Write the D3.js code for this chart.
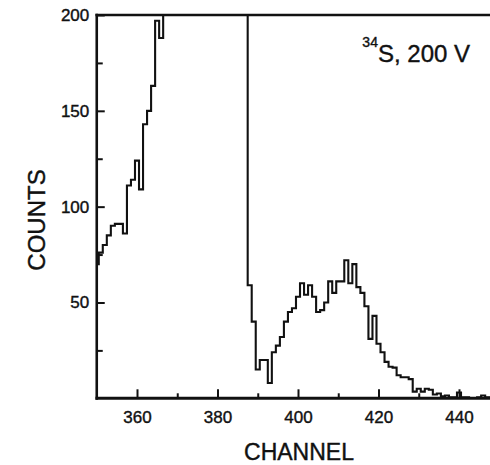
<!DOCTYPE html>
<html>
<head>
<meta charset="utf-8">
<script src="https://cdnjs.cloudflare.com/ajax/libs/d3/7.8.5/d3.min.js"></script>
<style>
    html, body { margin: 0; padding: 0; background: #fff; }
    svg { display: block; font-family: "Liberation Sans", Arial, Helvetica, sans-serif; }
    svg text { stroke: #111; stroke-width: 0.4px; }
</style>
</head>
<body>
<div id="chart"></div>
<script>
// first channel of the spectrum, one count per channel after that
var firstChannel = 350;
// counts; 200 = off scale (line runs along the top of the frame)
var counts = [
    70, 76, 80, 85, 90, 91, 91, 86, 111, 114,
    124, 109, 143, 150, 163, 197, 188,
    200, 200, 200, 200, 200, 200, 200, 200, 200, 200,
    200, 200, 200, 200, 200, 200, 200, 200, 200, 200, 200,
    59, 40, 15, 20, 20, 8, 24, 27.5, 32, 40,
    45, 47, 53, 60, 54, 59, 53, 45, 46, 50,
    61, 55, 61, 61, 72, 60, 70, 58, 55, 48,
    31, 43, 28.5, 24, 19, 16.5, 16, 12, 11, 11,
    10, 3.5, 5, 3.5, 5, 4.5, 2, 2.5, 1, 1.5,
    0.5, 0.5, 3, 0.5, 0.5, 0, 0, 0.5, 1.5, 0.5, 0
];
var xMajorTicks = [360, 380, 400, 420, 440];
var xMinorTicks = [370, 390, 410, 430];
var yMajorTicks = [50, 100, 150, 200];
var yMinorTicks = [25, 75, 125, 175];
var xDomain = [350, 448];
var yDomain = [0, 200];

function drawChart() {
    var width = 490, height = 465;
    var plotLeft = 96.75, plotRight = 491.2, plotTop = 15, plotBottom = 398.3;

    var svg = d3.select("#chart").append("svg")
        .attr("width", width)
        .attr("height", height);

    var x = d3.scaleLinear().domain(xDomain).range([plotLeft, plotRight]);
    var y = d3.scaleLinear().domain(yDomain).range([plotBottom, plotTop]);

    var bins = counts.map(function (d, i) {
        return {channel: firstChannel + i, value: d};
    });

    // step outline: each bin covers channel-0.5 .. channel+0.5
    var pts = [];
    bins.forEach(function (d) {
        pts.push([d.channel - 0.5, d.value]);
        pts.push([d.channel + 0.5, d.value]);
    });

    var histLine = d3.line()
        .x(function (d) { return x(d[0]); })
        .y(function (d) { return y(d[1]); });

    svg.append("clipPath").attr("id", "plotClip")
        .append("rect")
        .attr("x", x(xDomain[0]))
        .attr("y", y(yDomain[1]))
        .attr("width", x(xDomain[1]) - x(xDomain[0]))
        .attr("height", y(0) - y(yDomain[1]));

    svg.append("path")
        .attr("clip-path", "url(#plotClip)")
        .attr("d", histLine(pts))
        .attr("fill", "none")
        .attr("stroke", "#111")
        .attr("stroke-width", 2.1)
        .attr("stroke-linejoin", "miter");

    // axes, ticks pointing into the plot
    svg.append("g")
        .attr("transform", "translate(0," + y(0) + ")")
        .call(d3.axisBottom(x).tickValues(xMajorTicks).tickSize(-9).tickPadding(12.5).tickFormat(d3.format("d")));
    svg.append("g")
        .attr("transform", "translate(0," + y(0) + ")")
        .call(d3.axisBottom(x).tickValues(xMinorTicks).tickSize(-5).tickFormat(""));

    svg.append("g")
        .attr("transform", "translate(" + x(xDomain[0]) + ",0)")
        .call(d3.axisLeft(y).tickValues(yMajorTicks).tickSize(-8).tickPadding(7.5).tickFormat(d3.format("d")));
    svg.append("g")
        .attr("transform", "translate(" + x(xDomain[0]) + ",0)")
        .call(d3.axisLeft(y).tickValues(yMinorTicks).tickSize(-6).tickFormat(""));

    svg.selectAll(".domain").remove();
    svg.selectAll(".tick line").attr("stroke", "#111").attr("stroke-width", 2);
    svg.selectAll(".tick text")
        .attr("fill", "#111")
        .style("font-size", "17px");

    // frame: left, top, bottom
    svg.append("line")
        .attr("x1", x(xDomain[0])).attr("x2", x(xDomain[0]))
        .attr("y1", y(yDomain[1]) - 1.2).attr("y2", y(0) + 1.5)
        .attr("stroke", "#111").attr("stroke-width", 2.6);
    svg.append("line")
        .attr("x1", x(xDomain[0]) - 1.3).attr("x2", x(xDomain[1]))
        .attr("y1", y(yDomain[1])).attr("y2", y(yDomain[1]))
        .attr("stroke", "#111").attr("stroke-width", 2.6);
    svg.append("line")
        .attr("x1", x(xDomain[0]) - 1.3).attr("x2", x(xDomain[1]))
        .attr("y1", y(0)).attr("y2", y(0))
        .attr("stroke", "#111").attr("stroke-width", 3);

    // labels
    svg.append("text")
        .attr("transform", "translate(45,220) rotate(-90)")
        .attr("text-anchor", "middle")
        .style("font-size", "24px")
        .attr("fill", "#111")
        .text("COUNTS");

    svg.append("text")
        .attr("x", 299)
        .attr("y", 460)
        .attr("text-anchor", "middle")
        .style("font-size", "23px")
        .attr("fill", "#111")
        .text("CHANNEL");

    var title = svg.append("text")
        .attr("x", 470)
        .attr("y", 61.5)
        .attr("text-anchor", "end")
        .style("font-size", "24px")
        .attr("fill", "#111");
    title.append("tspan")
        .attr("dy", "-15")
        .style("font-size", "14px")
        .text("34");
    title.append("tspan")
        .attr("dy", "15")
        .text("S, 200 V");
}

drawChart();
</script>
</body>
</html>
